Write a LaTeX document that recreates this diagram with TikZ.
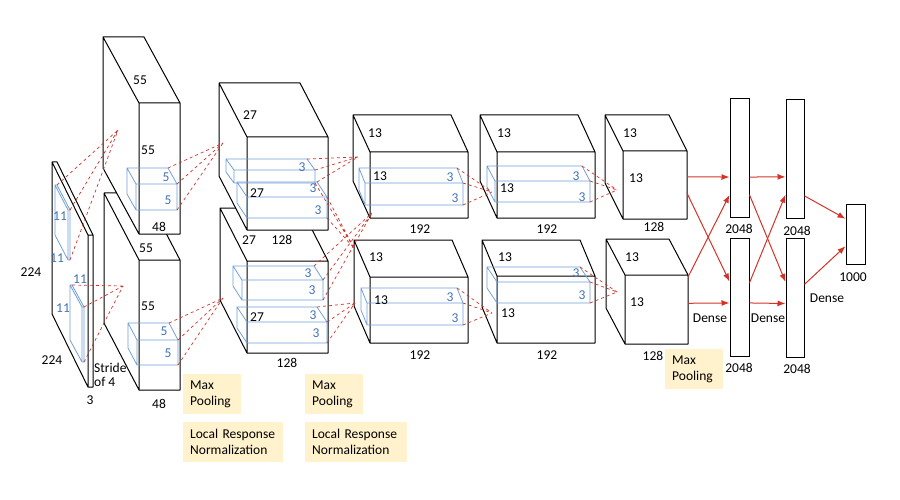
\documentclass[tikz,border=0pt]{standalone}
\usepackage{fontspec}
\setmainfont{Carlito}
\usepackage{tikz}
\usetikzlibrary{calc,arrows,arrows.meta}

\definecolor{kblue}{RGB}{115,160,218}
\definecolor{ktext}{RGB}{65,115,185}
\definecolor{cred}{RGB}{212,50,40}
\definecolor{noteyellow}{RGB}{255,242,204}

% name, front top left (x,y), front bottom right (x,y), depth (dx,dy)
\newcommand{\drawlayer}[8][layer]{%
  \coordinate (#2-a) at (#3,#4);
  \coordinate (#2-b) at (#5,#4);
  \coordinate (#2-c) at (#5,#6);
  \coordinate (#2-d) at (#3,#6);
  \coordinate (#2-e) at ($(#2-a)+(#7,#8)$);
  \coordinate (#2-f) at ($(#2-b)+(#7,#8)$);
  \coordinate (#2-g) at ($(#2-d)+(#7,#8)$);
  \draw[#1] (#2-d) -- (#2-g) -- (#2-e) -- (#2-f) -- (#2-b) -- (#2-c) -- cycle
    (#2-a) -- (#2-b) (#2-a) -- (#2-d) (#2-a) -- (#2-e);
}

\begin{document}
\begin{tikzpicture}[
  x=1pt,
  y=-1pt,
  font=\fontsize{13.5}{16}\selectfont
]

  \tikzstyle{layer}=[draw,line width=1pt,fill=white,line join=round]
  \tikzstyle{kernel}=[draw=kblue,line width=0.8pt]
  \tikzstyle{dimlab}=[inner sep=0pt]
  \tikzstyle{klab}=[inner sep=0pt,text=ktext]
  \tikzstyle{conn}=[draw=cred,dashed,line width=0.7pt]
  \tikzstyle{pointer}=[draw=cred,-{Latex[length=8pt,width=6pt]},line width=1pt]
  \tikzstyle{bar}=[draw,rectangle,line width=1pt,fill=white,inner sep=0pt]
  \tikzstyle{note}=[fill=noteyellow,align=left,anchor=north west,inner xsep=7pt,inner ysep=4pt,minimum height=40pt]

  \useasboundingbox (0,0) rectangle (900,500);

  % layers
  \drawlayer{in}{88}{235}{93}{387}{-36}{-73}
  \drawlayer[kernel]{ink1}{68}{210}{70}{260}{-13}{-25}
  \drawlayer[kernel]{ink2}{82}{307}{84}{362}{-12}{-22}

  \drawlayer{c1b}{139}{260}{180}{390}{-35}{-67}
  \drawlayer{c1a}{139}{103}{180}{234}{-36}{-66}
  \drawlayer[kernel]{k1a}{136}{184}{177}{210}{-9}{-16}
  \drawlayer[kernel]{k1b}{137}{340}{178}{365}{-9}{-17}

  \drawlayer{c2b}{247}{261}{328}{353}{-27}{-53}
  \drawlayer{c2a}{247}{137}{328}{230}{-28}{-54}
  \drawlayer[kernel]{k2a}{234}{170}{315}{183}{-8}{-11}
  \drawlayer[kernel]{k2b}{247}{197}{327}{218}{-10}{-15}
  \drawlayer[kernel]{k2c}{242}{280}{323}{300}{-9}{-14}
  \drawlayer[kernel]{k2d}{247}{322}{327}{343}{-10}{-15}

  \drawlayer{c3a}{370}{152}{468}{218}{-17}{-37}
  \drawlayer{c3b}{370}{277}{468}{343}{-16}{-37}
  \drawlayer[kernel]{k3a}{365}{183}{463}{205}{-6}{-15}
  \drawlayer[kernel]{k3b}{367}{303}{463}{325}{-6}{-15}

  \drawlayer{c4a}{497}{152}{595}{218}{-17}{-37}
  \drawlayer{c4b}{497}{276}{595}{343}{-15}{-36}
  \drawlayer[kernel]{k4a}{495}{181}{590}{202}{-8}{-15}
  \drawlayer[kernel]{k4b}{497}{282}{590}{303}{-10}{-15}

  \drawlayer{c5a}{623}{151}{687}{219}{-18}{-36}
  \drawlayer{c5b}{625}{275}{688}{344}{-19}{-36}

  \node[bar,minimum width=19pt,minimum height=118pt] (d1a) at (739.5,158) {};
  \node[bar,minimum width=19pt,minimum height=118pt] (d1b) at (739.5,297) {};
  \node[bar,minimum width=18pt,minimum height=118pt] (d2a) at (795,159) {};
  \node[bar,minimum width=18pt,minimum height=119pt] (d2b) at (795,297.5) {};
  \node[bar,minimum width=19pt,minimum height=60pt] (out) at (855.5,234) {};

  % labels
  \node[dimlab] (in-h) at (31,272) {224};
  \node[dimlab] (in-w) at (52,360) {224};
  \node[dimlab] (in-n) at (90,400) {3};
  \node[dimlab,align=left,anchor=west,font=\fontsize{13.5}{14}\selectfont] (stride) at (94,375) {Stride\\of 4};
  \node[klab] (ink1-w) at (60,216) {11};
  \node[klab] (ink1-h) at (57,258) {11};
  \node[klab] (ink2-w) at (80,279) {11};
  \node[klab] (ink2-h) at (63,308) {11};

  \node[dimlab] (c1a-w) at (140,80) {55};
  \node[dimlab] (c1a-h) at (148,150) {55};
  \node[dimlab] (c1a-n) at (159,227) {48};
  \node[klab] (k1a-w) at (166,177) {5};
  \node[klab] (k1a-h) at (168,200) {5};
  \node[dimlab] (c1b-w) at (146,248) {55};
  \node[dimlab] (c1b-h) at (148,306) {55};
  \node[dimlab] (c1b-n) at (159,404) {48};
  \node[klab] (k1b-w) at (164,331) {5};
  \node[klab] (k1b-h) at (168,353) {5};

  \node[dimlab] (c2a-w) at (250,115) {27};
  \node[dimlab] (c2a-h) at (257,193) {27};
  \node[dimlab] (c2a-n) at (282,240) {128};
  \node[klab] (k2a-w) at (302,167) {3};
  \node[klab] (k2b-w) at (313,188) {3};
  \node[klab] (k2b-h) at (318,210) {3};
  \node[dimlab] (c2b-w) at (249,240) {27};
  \node[dimlab] (c2b-h) at (257,317) {27};
  \node[dimlab] (c2b-n) at (287,363) {128};
  \node[klab] (k2c-w) at (308,273) {3};
  \node[klab] (k2c-h) at (312,290) {3};
  \node[klab] (k2d-w) at (313,315) {3};
  \node[klab] (k2d-h) at (316,333) {3};

  \node[dimlab] (c3a-w) at (375,133) {13};
  \node[dimlab] (c3a-h) at (380,176) {13};
  \node[dimlab] (c3a-n) at (420,229) {192};
  \node[klab] (k3a-w) at (450,177) {3};
  \node[klab] (k3a-h) at (455,198) {3};
  \node[dimlab] (c3b-w) at (376,257) {13};
  \node[dimlab] (c3b-h) at (381,300) {13};
  \node[dimlab] (c3b-n) at (420,355) {192};
  \node[klab] (k3b-w) at (450,297) {3};
  \node[klab] (k3b-h) at (455,318) {3};

  \node[dimlab] (c4a-w) at (504,133) {13};
  \node[dimlab] (c4a-h) at (507,188) {13};
  \node[dimlab] (c4a-n) at (547,229) {192};
  \node[klab] (k4a-w) at (576,176) {3};
  \node[klab] (k4a-h) at (582,197) {3};
  \node[dimlab] (c4b-w) at (505,257) {13};
  \node[dimlab] (c4b-h) at (508,313) {13};
  \node[dimlab] (c4b-n) at (547,355) {192};
  \node[klab] (k4b-w) at (576,273) {3};
  \node[klab] (k4b-h) at (582,295) {3};

  \node[dimlab] (c5a-w) at (630,133) {13};
  \node[dimlab] (c5a-h) at (636,178) {13};
  \node[dimlab] (c5a-n) at (654,227) {128};
  \node[dimlab] (c5b-w) at (632,257) {13};
  \node[dimlab] (c5b-h) at (637,302) {13};
  \node[dimlab] (c5b-n) at (653,356) {128};

  \node[dimlab] (d1a-n) at (739,229) {2048};
  \node[dimlab] (d1b-n) at (739,368) {2048};
  \node[dimlab] (d2a-n) at (797,231) {2048};
  \node[dimlab] (d2b-n) at (797,369) {2048};
  \node[dimlab] (out-n) at (853,277) {1000};
  \node[dimlab] (dense1) at (710,318) {Dense};
  \node[dimlab] (dense2) at (768,318) {Dense};
  \node[dimlab] (dense3) at (827,298) {Dense};

  % convolution windows
  \coordinate (in-t) at (118,130);
  \coordinate (in-u) at (123,286);
  \coordinate (c1-t) at (223,143);
  \coordinate (c1-u) at (223,298);
  \coordinate (c2-t) at (358,157);
  \coordinate (c2-x) at (354,248);
  \coordinate (c2-y) at (372,213);
  \coordinate (c2-u) at (355,303);
  \coordinate (c3-t) at (492,192);
  \coordinate (c3-u) at (492,313);
  \coordinate (c4-t) at (617,190);
  \coordinate (c4-u) at (617,292);

  \foreach \k/\t in {ink1/in-t,ink2/in-u,k1a/c1-t,k1b/c1-u,k3a/c3-t,k3b/c3-u,k4a/c4-t,k4b/c4-u,k2c/c2-y,k2d/c2-u}
    \draw[conn] (\k-f) -- (\t) (\k-b) -- (\t) (\k-c) -- (\t);
  \draw[conn] (k2a-f) -- (c2-t) (k2a-b) -- (c2-t) (k2b-f) -- (c2-t);
  \draw[conn] (k2a-c) -- (c2-x) (k2b-b) -- (c2-x) (k2b-c) -- (c2-x);

  % pointers
  \draw[pointer] ($(c5a-b)!0.38!(c5a-c)$) -- ($(d1a.north west)!0.66!(d1a.south west)$);
  \draw[pointer] ($(c5a-b)!0.62!(c5a-c)$) -- ($(d1b.north west)!0.37!(d1b.south west)$);
  \draw[pointer] ($(c5b-b)!0.03!(c5b-c)$) -- ($(d1a.north west)!0.81!(d1a.south west)$);
  \draw[pointer] ($(c5b-b)!0.41!(c5b-c)$) -- ($(d1b.north west)!0.55!(d1b.south west)$);
  \draw[pointer] ($(d1a.north east)!0.66!(d1a.south east)$) -- ($(d2a.north west)!0.65!(d2a.south west)$);
  \draw[pointer] ($(d1a.north east)!0.81!(d1a.south east)$) -- ($(d2b.north west)!0.37!(d2b.south west)$);
  \draw[pointer] ($(d1b.north east)!0.38!(d1b.south east)$) -- ($(d2a.north west)!0.80!(d2a.south west)$);
  \draw[pointer] ($(d1b.north east)!0.55!(d1b.south east)$) -- ($(d2b.north west)!0.55!(d2b.south west)$);
  \draw[pointer] ($(d2a.north east)!0.81!(d2a.south east)$) -- ($(out.north west)!0.25!(out.south west)$);
  \draw[pointer] ($(d2b.north east)!0.39!(d2b.south east)$) -- ($(out.north west)!0.70!(out.south west)$);

  % notes
  \node[note,text width=44pt] (pool1) at (183,374) {Max\\Pooling};
  \node[note,text width=86pt] (norm1) at (183,422) {Local Response\\Normalization};
  \node[note,text width=44pt] (pool2) at (305,374) {Max\\Pooling};
  \node[note,text width=88pt] (norm2) at (305,422) {Local Response\\Normalization};
  \node[note,text width=44pt] (pool5) at (665,349) {Max\\Pooling};

\end{tikzpicture}
\end{document}
